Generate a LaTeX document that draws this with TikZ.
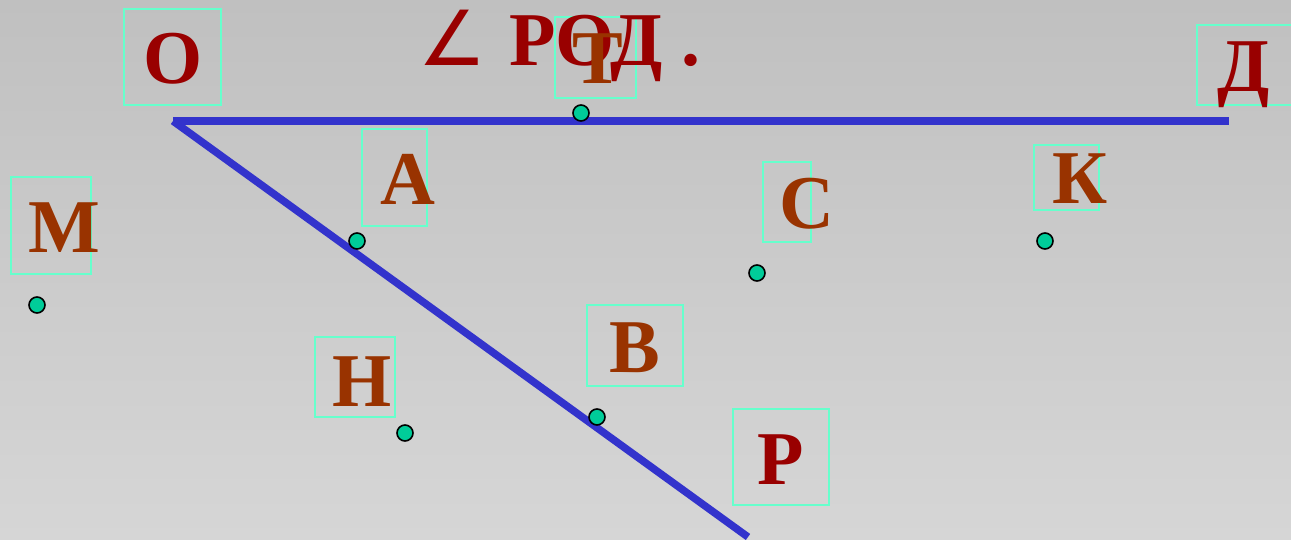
\documentclass[tikz,border=0pt]{standalone}
\usepackage{fontspec}
\setmainfont{Liberation Serif}
\newfontfamily\angfont{DejaVu Sans}
\definecolor{bgtop}{RGB}{192,192,192}
\definecolor{bgbot}{RGB}{214,214,214}
\definecolor{linblue}{RGB}{51,51,204}
\definecolor{ltred}{RGB}{153,0,0}
\definecolor{ltbrown}{RGB}{153,51,0}
\definecolor{boxcol}{RGB}{102,255,204}
\definecolor{dotfill}{RGB}{0,204,153}
\tikzset{
  lbl/.style={inner sep=0pt, anchor=base, font=\fontsize{76}{80}\selectfont\bfseries},
  redlbl/.style={lbl, text=ltred},
  brnlbl/.style={lbl, text=ltbrown},
  lblbox/.style={draw=boxcol, line width=2pt},
  ray/.style={draw=linblue, line width=7.5pt, line cap=butt},
  pt/.style={circle, draw=black, line width=1.6pt, fill=dotfill, minimum size=16pt, inner sep=0pt}
}
\begin{document}
\begin{tikzpicture}[x=1pt,y=-1pt]
\useasboundingbox (0,0) rectangle (1291,540);
\clip (0,0) rectangle (1291,540);
\shade[top color=bgtop, bottom color=bgbot] (0,0) rectangle (1291,540);
% label boxes
\draw[lblbox] (124,9) rectangle (221,105);
\draw[lblbox] (555,17) rectangle (636,98);
\draw[lblbox] (1197,25) rectangle (1300,105);
\draw[lblbox] (362,129) rectangle (427,226);
\draw[lblbox] (763,162) rectangle (811,242);
\draw[lblbox] (1034,145) rectangle (1099,210);
\draw[lblbox] (11,177) rectangle (91,274);
\draw[lblbox] (315,337) rectangle (395,417);
\draw[lblbox] (587,305) rectangle (683,386);
\draw[lblbox] (733,409) rectangle (829,505);
% rays
\coordinate (V) at (173,121);
\coordinate (Dend) at (1229,121);
\coordinate (Pend) at (748,537);
\draw[ray] (V) -- (Dend);
\draw[ray] (V) -- (Pend);
% title
\node[text=ltred, inner sep=0pt, anchor=base west, font=\fontsize{76}{80}\selectfont\angfont] (ang) at (418,66) {∠};
\node[redlbl, anchor=base west] (title) at (509,66) {РОД .};
% labels
\node[redlbl] (lO) at (173,84) {О};
\node[brnlbl] (lT) at (598,84) {Т};
\node[redlbl] (lD) at (1244,92) {Д};
\node[brnlbl] (lK) at (1080,204) {К};
\node[brnlbl] (lM) at (64,253) {М};
\node[brnlbl] (lA) at (408,205) {А};
\node[brnlbl] (lC) at (807,229) {С};
\node[brnlbl] (lH) at (362,406) {Н};
\node[brnlbl] (lB) at (635,372) {В};
\node[redlbl] (lP) at (781,484) {Р};
% points
\node[pt] (pT) at (581,113) {};
\node[pt] (pA) at (357,241) {};
\node[pt] (pB) at (597,417) {};
\node[pt] (pM) at (37,305) {};
\node[pt] (pC) at (757,273) {};
\node[pt] (pK) at (1045,241) {};
\node[pt] (pH) at (405,433) {};
\end{tikzpicture}
\end{document}
